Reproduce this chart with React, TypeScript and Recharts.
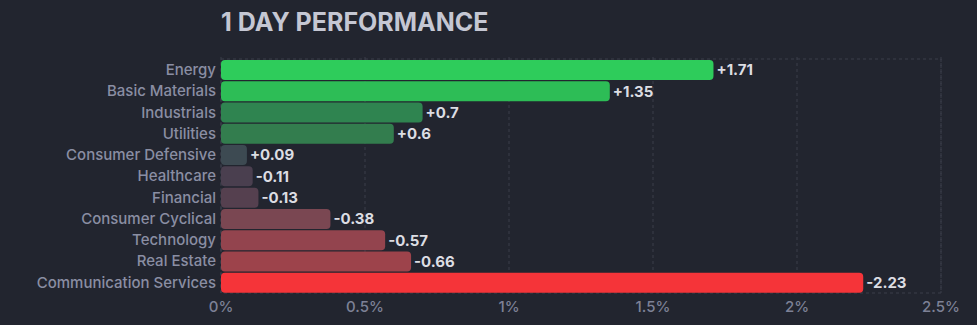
import React from "react";
import { BarChart, Bar, XAxis, YAxis, CartesianGrid, LabelList, Cell, ReferenceArea } from "recharts";

const sectors = [
  "Energy",
  "Basic Materials",
  "Industrials",
  "Utilities",
  "Consumer Defensive",
  "Healthcare",
  "Financial",
  "Consumer Cyclical",
  "Technology",
  "Real Estate",
  "Communication Services",
];
const changes = [1.71, 1.35, 0.7, 0.6, 0.09, -0.11, -0.13, -0.38, -0.57, -0.66, -2.23];
const barColors = [
  "#2ecc5b",
  "#2dbd56",
  "#2f8450",
  "#337d4e",
  "#3d4a52",
  "#4a3f4f",
  "#55404f",
  "#7a4752",
  "#93444e",
  "#9d434b",
  "#f53439",
];
const xTicks = [0, 0.5, 1, 1.5, 2, 2.5];

const data = sectors.map((name, i) => ({
  name,
  change: changes[i],
  abs: Math.abs(changes[i]),
}));

const FONT = "Inter, 'Noto Sans', sans-serif";

export default function App() {
  return (
    <div
      style={{
        position: "absolute",
        left: 0,
        top: 0,
        width: 977,
        height: 325,
        background: "#22252f",
        fontFamily: FONT,
        overflow: "hidden",
      }}
    >
      <div
        style={{
          position: "absolute",
          left: 221,
          top: 7,
          fontSize: 25,
          fontWeight: 700,
          color: "#c5c7d3",
        }}
      >
        1 DAY PERFORMANCE
      </div>
      <BarChart
        width={977}
        height={325}
        data={data}
        layout="vertical"
        margin={{ top: 57, right: 36, bottom: 12, left: 0 }}
        barSize={20}
        style={{ position: "absolute", left: 0, top: 0 }}
      >
        <CartesianGrid stroke="#3a3e4b" strokeDasharray="3 3" horizontal={false} />
        <ReferenceArea x1={0} x2={2.5} fill="none" stroke="#3a3e4b" strokeDasharray="3 3" />
        <XAxis
          type="number"
          dataKey="abs"
          domain={[0, 2.5]}
          ticks={xTicks}
          tickFormatter={(v: number) => `${v}%`}
          axisLine={false}
          tickLine={false}
          tickSize={0}
          tickMargin={8}
          height={20}
          interval={0}
          tick={{ fill: "#7d8196", fontSize: 15, fontWeight: 500, fontFamily: FONT }}
        />
        <YAxis
          type="category"
          dataKey="name"
          width={221}
          padding={{ top: 2, bottom: 0 }}
          axisLine={false}
          tickLine={false}
          tickSize={0}
          tickMargin={5}
          interval={0}
          tick={{ fill: "#8a8ea3", fontSize: 15, fontWeight: 500, fontFamily: FONT }}
        />
        <Bar dataKey="abs" radius={4} isAnimationActive={false}>
          {data.map((d, i) => (
            <Cell key={d.name} fill={barColors[i]} />
          ))}
          <LabelList
            dataKey="change"
            position="right"
            offset={3}
            formatter={(v: number) => (v > 0 ? `+${v}` : `${v}`)}
            style={{ fill: "#dcdde3", fontSize: 15, fontWeight: 700, fontFamily: FONT }}
          />
        </Bar>
      </BarChart>
    </div>
  );
}
